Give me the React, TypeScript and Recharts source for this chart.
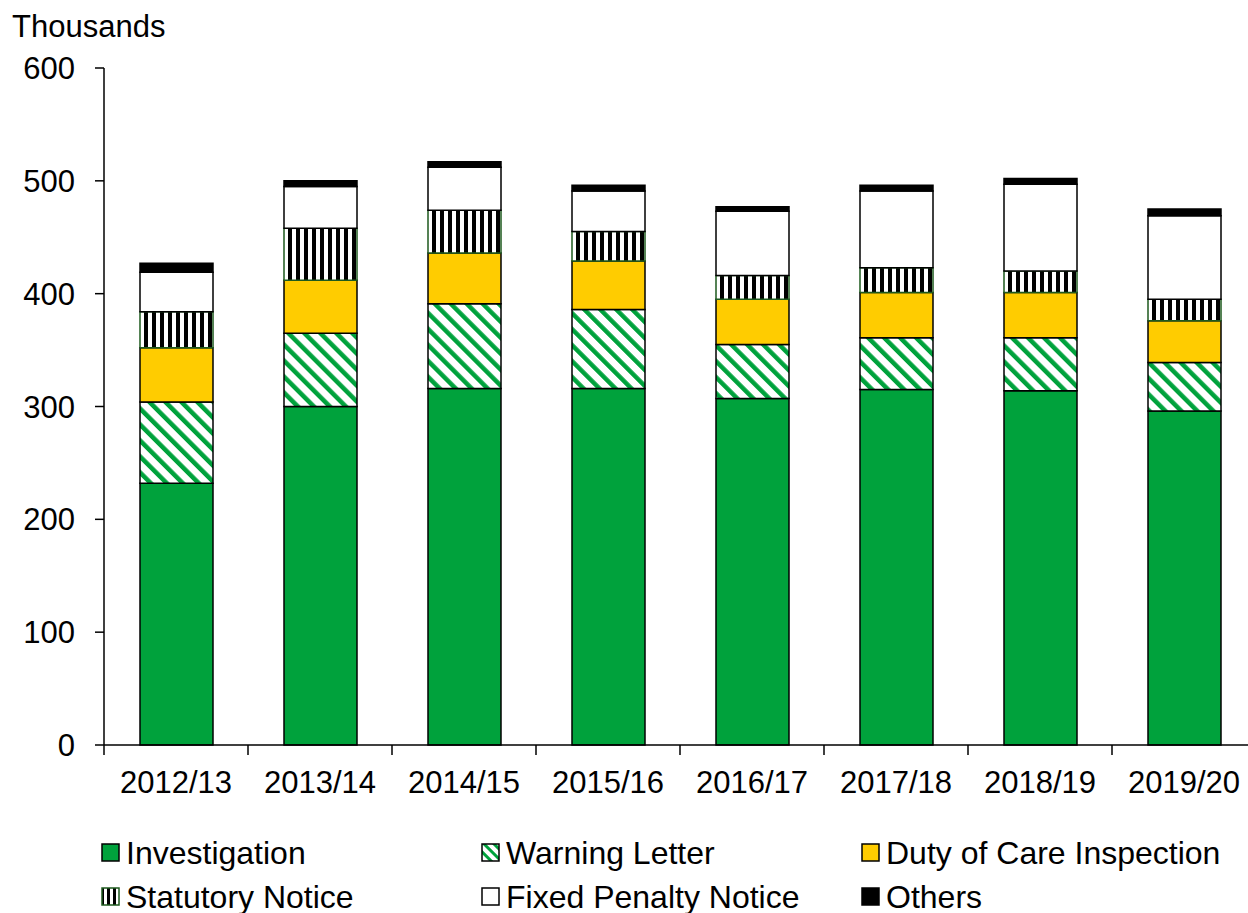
import React from "react";
import { BarChart, Bar, XAxis, YAxis } from "recharts";

const categories = ["2012/13", "2013/14", "2014/15", "2015/16", "2016/17", "2017/18", "2018/19", "2019/20"];
const investigation = [232, 300, 316, 316, 307, 315, 314, 296];
const warningLetter = [72, 65, 75, 70, 48, 46, 47, 43];
const dutyOfCare = [48, 47, 45, 43, 40, 40, 40, 37];
const statutoryNotice = [32, 46, 38, 26, 21, 22, 19, 19];
const fixedPenalty = [35, 37, 38, 36, 57, 68, 77, 74];
const others = [8, 5, 5, 5, 4, 5, 5, 6];
const yTicks = [0, 100, 200, 300, 400, 500, 600];

const GREEN = "#00a23c";
const YELLOW = "#ffcc00";
const DARK_GREEN = "#1e5a1e";
const FONT = "'Liberation Sans', Arial, sans-serif";
const FS = 31;

const data = categories.map((c, i) => ({
  year: c,
  investigation: investigation[i],
  warning: warningLetter[i],
  duty: dutyOfCare[i],
  statutory: statutoryNotice[i],
  fixed: fixedPenalty[i],
  others: others[i],
}));

const legendItems = [
  { name: "Investigation", fill: GREEN, stroke: "#000" },
  { name: "Warning Letter", fill: "url(#lgWarn)", stroke: "#000" },
  { name: "Duty of Care Inspection", fill: YELLOW, stroke: "#000" },
  { name: "Statutory Notice", fill: "url(#lgStat)", stroke: DARK_GREEN },
  { name: "Fixed Penalty Notice", fill: "#fff", stroke: "#000" },
  { name: "Others", fill: "#000", stroke: "#000" },
];

// category ticks sit between the bars, like Excel
const XTick = (props: any) => {
  const { x, y, payload, index } = props;
  const step = (1256 - 104) / categories.length;
  return (
    <g>
      <line x1={x - step / 2} x2={x - step / 2} y1={y} y2={y + 10} stroke="#000" strokeWidth={1.5} />
      {index === categories.length - 1 && (
        <line x1={x + step / 2} x2={x + step / 2} y1={y} y2={y + 10} stroke="#000" strokeWidth={1.5} />
      )}
      <text x={x} y={y + 26} dy="0.71em" textAnchor="middle" fontSize={FS} fontFamily={FONT} fill="#000">
        {payload.value}
      </text>
    </g>
  );
};

export default function App() {
  return (
    <div style={{ position: "absolute", left: 0, top: 0, width: 1248, height: 913, overflow: "hidden", background: "#fff" }}>
      <BarChart
        width={1260}
        height={913}
        data={data}
        margin={{ top: 68, right: 4, left: 0, bottom: 108 }}
        barSize={73}
      >
        <defs>
          <pattern id="warnPat" patternUnits="userSpaceOnUse" width={11.3} height={11.3} patternTransform="rotate(-45)">
            <rect width={11.3} height={11.3} fill="#fff" />
            <rect width={4.5} height={11.3} fill={GREEN} />
          </pattern>
          <pattern id="statPat" patternUnits="userSpaceOnUse" width={8} height={8}>
            <rect width={8} height={8} fill="#fff" />
            <rect width={4} height={8} fill="#000" />
          </pattern>
        </defs>
        <XAxis
          dataKey="year"
          height={60}
          tickLine={false}
          tickSize={0}
          tickMargin={0}
          axisLine={{ stroke: "#000", strokeWidth: 1.5 }}
          tick={<XTick />}
          interval={0}
        />
        <YAxis
          domain={[0, 600]}
          ticks={yTicks}
          width={104}
          tickSize={9}
          tickMargin={20}
          axisLine={{ stroke: "#000", strokeWidth: 1.5 }}
          tickLine={{ stroke: "#000", strokeWidth: 1.5 }}
          tick={{ fontSize: FS, fontFamily: FONT, fill: "#000" }}
          label={{
            content: () => (
              <text x={12} y={37} fontSize={FS} fontFamily={FONT} fill="#000">
                Thousands
              </text>
            ),
          }}
        />
        <Bar dataKey="investigation" stackId="a" fill={GREEN} stroke="#000" strokeWidth={1.5} isAnimationActive={false} />
        <Bar dataKey="warning" stackId="a" fill="url(#warnPat)" stroke="#000" strokeWidth={1.5} isAnimationActive={false} />
        <Bar dataKey="duty" stackId="a" fill={YELLOW} stroke="#000" strokeWidth={1.5} isAnimationActive={false} />
        <Bar dataKey="statutory" stackId="a" fill="url(#statPat)" stroke={DARK_GREEN} strokeWidth={1.5} isAnimationActive={false} />
        <Bar dataKey="fixed" stackId="a" fill="#fff" stroke="#000" strokeWidth={1.5} isAnimationActive={false} />
        <Bar dataKey="others" stackId="a" fill="#000" stroke="#000" strokeWidth={1.5} isAnimationActive={false} />
      </BarChart>
      <svg width={0} height={0} style={{ position: "absolute" }}>
        <defs>
          <pattern id="lgWarn" patternUnits="userSpaceOnUse" width={7} height={7} patternTransform="rotate(-45)">
            <rect width={7} height={7} fill="#fff" />
            <rect width={3} height={7} fill={GREEN} />
          </pattern>
          <pattern id="lgStat" patternUnits="userSpaceOnUse" width={6} height={6}>
            <rect width={6} height={6} fill="#fff" />
            <rect width={3} height={6} fill="#000" />
          </pattern>
        </defs>
      </svg>
      {legendItems.map((item, i) => {
        const col = i % 3;
        const row = Math.floor(i / 3);
        return (
          <div
            key={item.name}
            style={{
              position: "absolute",
              left: 101 + col * 380,
              top: 835 + row * 44,
              height: 36,
              lineHeight: "36px",
              display: "flex",
              alignItems: "center",
              fontFamily: FONT,
              fontSize: 32,
              color: "#000",
              whiteSpace: "nowrap",
            }}
          >
            <svg width={20} height={20} style={{ marginRight: 5 }}>
              <rect x={1} y={1} width={17} height={17} fill={item.fill} stroke={item.stroke} strokeWidth={1.5} />
            </svg>
            {item.name}
          </div>
        );
      })}
    </div>
  );
}
